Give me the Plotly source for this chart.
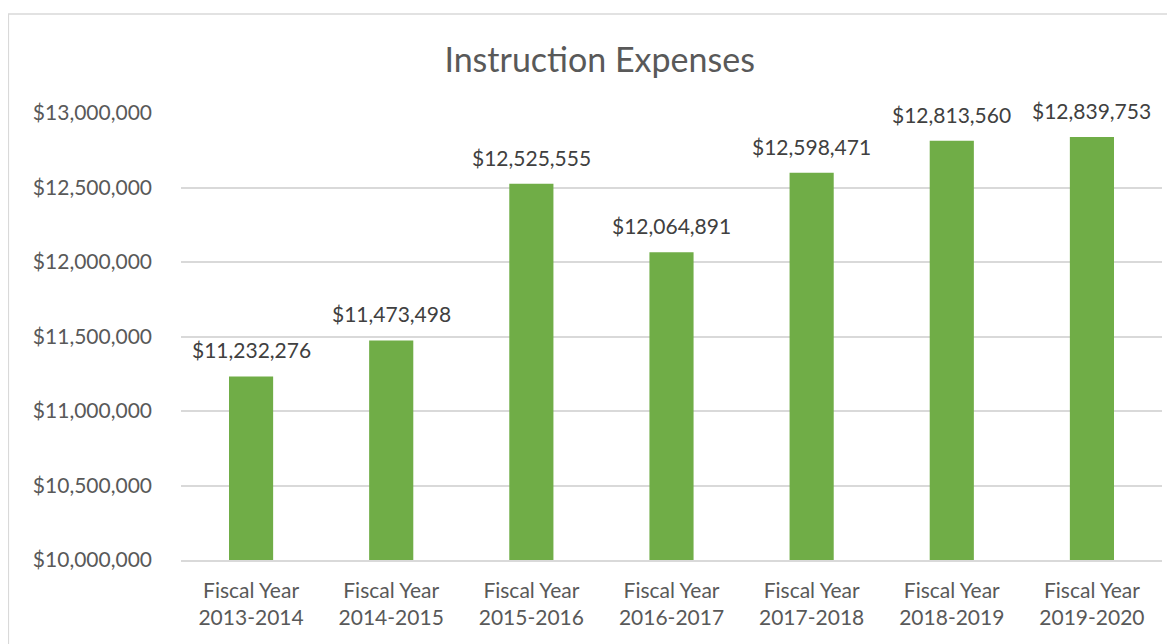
import plotly.graph_objects as go

# data
fiscal_years = ["2013-2014", "2014-2015", "2015-2016", "2016-2017",
                "2017-2018", "2018-2019", "2019-2020"]
expenses = [11232276, 11473498, 12525555, 12064891, 12598471, 12813560, 12839753]
y_ticks = [10000000, 10500000, 11000000, 11500000, 12000000, 12500000, 13000000]

GREEN = "#70ad47"
TEXT = "#595959"
LABEL = "#404040"
GRID = "#d9d9d9"
FONT = "Lato, 'Open Sans', sans-serif"

categories = [f"Fiscal Year<br>{fy}" for fy in fiscal_years]

fig = go.Figure()
fig.add_trace(go.Bar(
    x=categories,
    y=expenses,
    marker=dict(color=GREEN, line=dict(width=0)),
    base=0,
    showlegend=False,
    hoverinfo="skip",
))

# data labels sit a bit above each bar
for cat, val in zip(categories, expenses):
    fig.add_annotation(
        x=cat, y=val, text=f"${val:,.0f}",
        showarrow=False, yanchor="bottom", yshift=12,
        font=dict(family=FONT, size=21, color=LABEL),
    )

# chart frame, like the Excel chart border
fig.add_shape(
    type="rect", xref="paper", yref="paper",
    x0=-0.176, x1=1.2, y0=-0.4, y1=1.2215,
    line=dict(color=GRID, width=1.5), fillcolor="rgba(0,0,0,0)",
    layer="below",
)

# page body has an 8px margin, so the figure is sized to fit the window
fig.update_layout(
    width=1167,
    height=636,
    paper_bgcolor="white",
    plot_bgcolor="white",
    bargap=0.685,
    font=dict(family=FONT, color=TEXT, size=21),
    title=dict(
        text="Instruction Expenses",
        x=0.507, xanchor="center",
        y=0.918, yanchor="middle",
        font=dict(family=FONT, size=34, color=TEXT),
    ),
    margin=dict(l=173, r=13, t=105, b=84),
)
fig.update_xaxes(
    showgrid=False,
    showline=True, linecolor=GRID, linewidth=1.5,
    ticks="", ticklabelstandoff=11,
    tickfont=dict(family=FONT, size=21, color=TEXT),
)
fig.update_yaxes(
    range=[10000000, 13000000],
    tickvals=y_ticks,
    ticktext=[f"${v:,.0f}" for v in y_ticks],
    showgrid=True, gridcolor=GRID, gridwidth=1.5,
    zeroline=False, showline=False,
    ticks="", ticklabelstandoff=28,
    tickfont=dict(family=FONT, size=21, color=TEXT),
)

fig.write_html("out.html")
